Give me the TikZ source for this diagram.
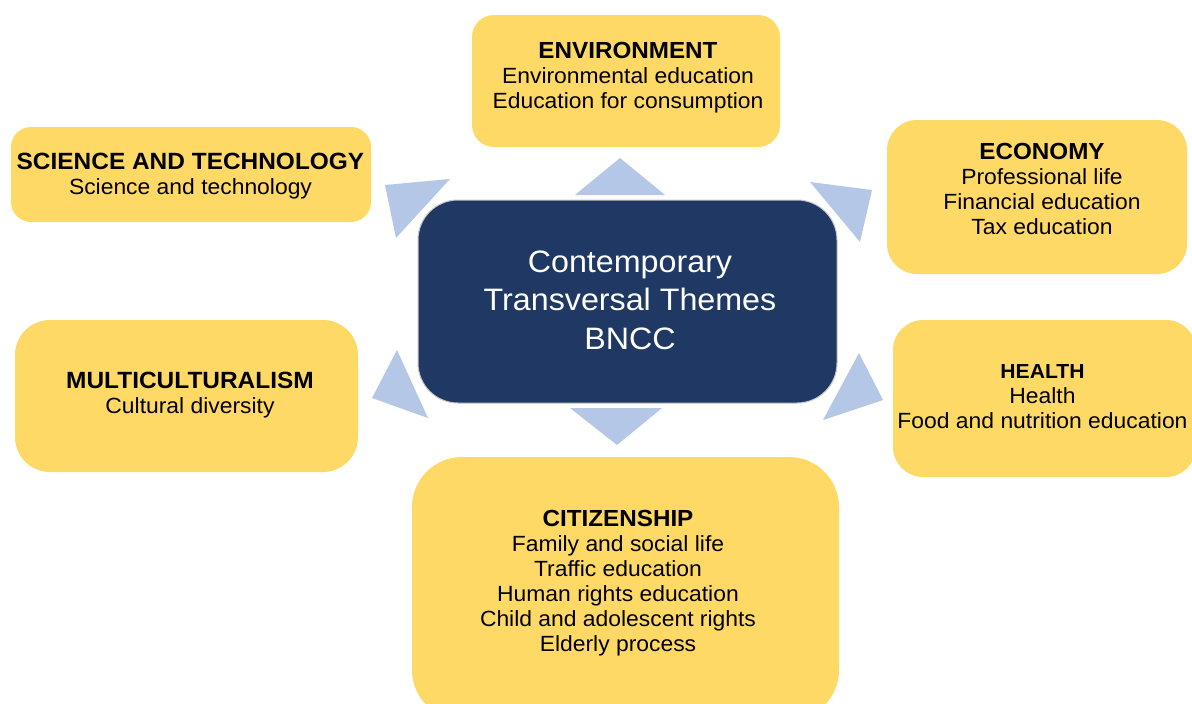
\documentclass[tikz,border=0pt]{standalone}
\usepackage{fontspec}
\setmainfont{Liberation Sans}[FakeStretch=1.04]
\definecolor{gold}{HTML}{FFD966}
\definecolor{navy}{HTML}{1F3864}
\definecolor{tri}{HTML}{B4C7E7}
\begin{document}
\begin{tikzpicture}[x=1pt,y=-1pt,
  box/.style={fill=gold,draw=none,rounded corners=#1,inner sep=0pt},
  hub/.style={fill=navy,draw=gray!45,line width=1pt,rounded corners=40pt,inner sep=0pt},
  txt/.style={align=center,inner sep=0pt,font=\fontsize{22}{25}\selectfont},
  hubtxt/.style={align=center,inner sep=0pt,text=white,font=\fontsize{31}{38.5}\selectfont},
  arrowtri/.style={fill=tri,draw=none}]
\useasboundingbox[fill=white] (0,0) rectangle (1192,704);
% triangles
\fill[arrowtri] (620,158) -- (575,195) -- (665,195) -- cycle;
\fill[arrowtri] (570,408) -- (662,408) -- (617,445) -- cycle;
\fill[arrowtri] (385,185) -- (450,179) -- (396,238) -- cycle;
\fill[arrowtri] (397,350) -- (372,398) -- (428,418) -- cycle;
\fill[arrowtri] (810,182) -- (872,190) -- (860,242) -- cycle;
\fill[arrowtri] (859,353) -- (883,400) -- (823,420) -- cycle;
% boxes
\node[box=22pt,minimum width=308pt,minimum height=132pt] (env) at (626,81) {};
\node[box=20pt,minimum width=360pt,minimum height=95pt] (sci) at (191,174.5) {};
\node[box=30pt,minimum width=300pt,minimum height=154pt] (eco) at (1037,197) {};
\node[box=35pt,minimum width=343pt,minimum height=152pt] (mul) at (186.5,396) {};
\node[box=30pt,minimum width=303pt,minimum height=157pt] (hea) at (1044.5,398.5) {};
\node[box=50pt,minimum width=427pt,minimum height=263pt] (cit) at (625.5,588.5) {};
\node[hub,minimum width=419pt,minimum height=203pt] (ctr) at (627.5,301.5) {};
% texts
\node[txt] (envt) at (628,77.5) {{\fontsize{23.3}{25}\selectfont\bfseries ENVIRONMENT}\\Environmental education\\Education for consumption};
\node[txt] (scit) at (190.5,176) {{\fontsize{23.5}{25}\selectfont\bfseries SCIENCE AND TECHNOLOGY}\\Science and technology};
\node[txt] (ecot) at (1042,189) {{\fontsize{23.3}{25}\selectfont\bfseries ECONOMY}\\Professional life\\Financial education\\Tax education};
\node[txt] (mult) at (190,395) {{\fontsize{23.5}{25}\selectfont\bfseries MULTICULTURALISM}\\Cultural diversity};
\node[txt] (heat) at (1042.5,396.5) {{\fontsize{20.3}{25}\selectfont\bfseries HEALTH}\\Health\\Food and nutrition education};
\node[txt] (citt) at (618,583) {{\fontsize{23.3}{25}\selectfont\bfseries CITIZENSHIP}\\Family and social life\\Traffic education\\Human rights education\\Child and adolescent rights\\Elderly process};
\node[hubtxt] (ctrt) at (630,300) {Contemporary\\Transversal Themes\\BNCC};
\end{tikzpicture}
\end{document}
